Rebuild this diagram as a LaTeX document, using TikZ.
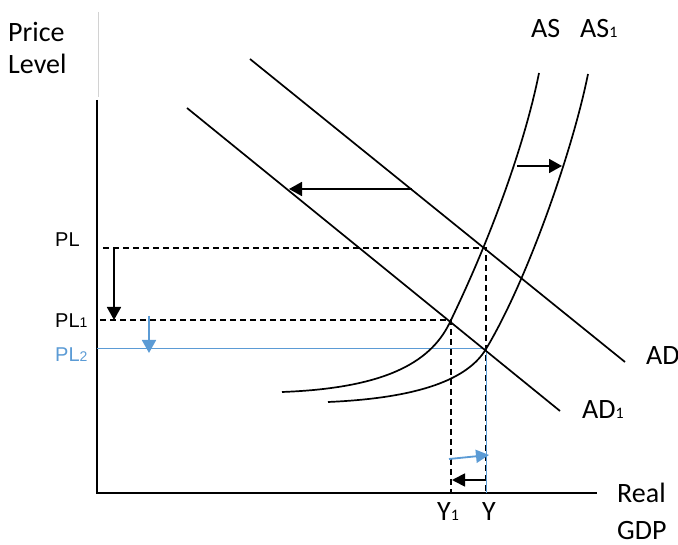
\documentclass[tikz,border=0pt]{standalone}
\usepackage{fontspec}
\setmainfont{Carlito}
\newfontfamily\plfont{Liberation Sans}
\usetikzlibrary{arrows.meta}
\definecolor{ShiftBlue}{RGB}{91,155,213}
\newcommand{\subone}{{\fontsize{16}{16}\selectfont 1}}
\newcommand{\plsub}[1]{{\fontsize{14}{14}\selectfont #1}}

\begin{document}
\begin{tikzpicture}[x=1pt,y=-1pt,
  lbl/.style={anchor=base west,inner sep=0pt,font=\fontsize{28}{32}\selectfont},
  pl/.style={anchor=base west,inner sep=0pt,font=\plfont\fontsize{20}{24}\selectfont},
  guide/.style={line width=1.7pt,dash pattern=on 6pt off 4pt},
  curve/.style={line width=1.7pt},
  shiftarrow/.style={-{Triangle[length=13pt,width=14pt]},line width=1.8pt}]
  \useasboundingbox (0,0) rectangle (678,545);
  % equilibrium points
  \coordinate (E0) at (486,248);
  \coordinate (E1) at (451,320);
  \coordinate (E2) at (486,349);
  % axes
  \draw[gray!35,line width=0.8pt] (98,12) -- (98,97);
  \draw[line width=1.8pt] (97,100) -- (97,493) -- (597,493);
  % guide lines
  \draw[guide] (103,248) -- (E0) -- (486,493);
  \draw[guide] (100,320) -- (E1) -- (451,493);
  \draw[ShiftBlue,line width=1pt] (97,349) -- (E2) -- (486,493);
  % demand
  \draw[curve] (250,59) -- (625,362);
  \draw[curve] (187,108) -- (560,411);
  % supply
  \draw[curve] (282,392) .. controls (390,388) and (433,360) .. (E1)
    .. controls (492,235) and (525,143) .. (539,73);
  \draw[curve] (328,402) .. controls (420,398) and (468,379) .. (E2)
    .. controls (528,279) and (573,149) .. (588,74);
  % shifts
  \draw[shiftarrow] (114,249) -- (114,320);
  \draw[shiftarrow,ShiftBlue] (149,316) -- (149,353);
  \draw[shiftarrow] (412,189) -- (289,189);
  \draw[shiftarrow] (517,166) -- (562,166);
  \draw[shiftarrow,ShiftBlue,-{Triangle[length=13pt,width=13pt]}] (449,459) -- (489,455);
  \draw[shiftarrow,-{Triangle[length=13pt,width=13pt]}] (486,480) -- (452,480);
  % labels
  \node[lbl] (price) at (8,42) {Price};
  \node[lbl] (level) at (8,74) {Level};
  \node[lbl] (as) at (531,38) {AS};
  \node[lbl] (as1) at (580,38) {AS\subone};
  \node[lbl] (ad) at (646,365) {AD};
  \node[lbl] (ad1) at (582,419) {AD\subone};
  \node[lbl] (real) at (617,503) {Real};
  \node[lbl] (gdp) at (617,539) {GDP};
  \node[lbl] (y1) at (437,520) {Y\subone};
  \node[lbl] (y) at (482,520) {Y};
  \node[pl] (pl) at (55,247) {PL};
  \node[pl] (pl1) at (55,328) {PL\plsub{1}};
  \node[pl,text=ShiftBlue] (pl2) at (55,362) {PL\plsub{2}};
\end{tikzpicture}
\end{document}
